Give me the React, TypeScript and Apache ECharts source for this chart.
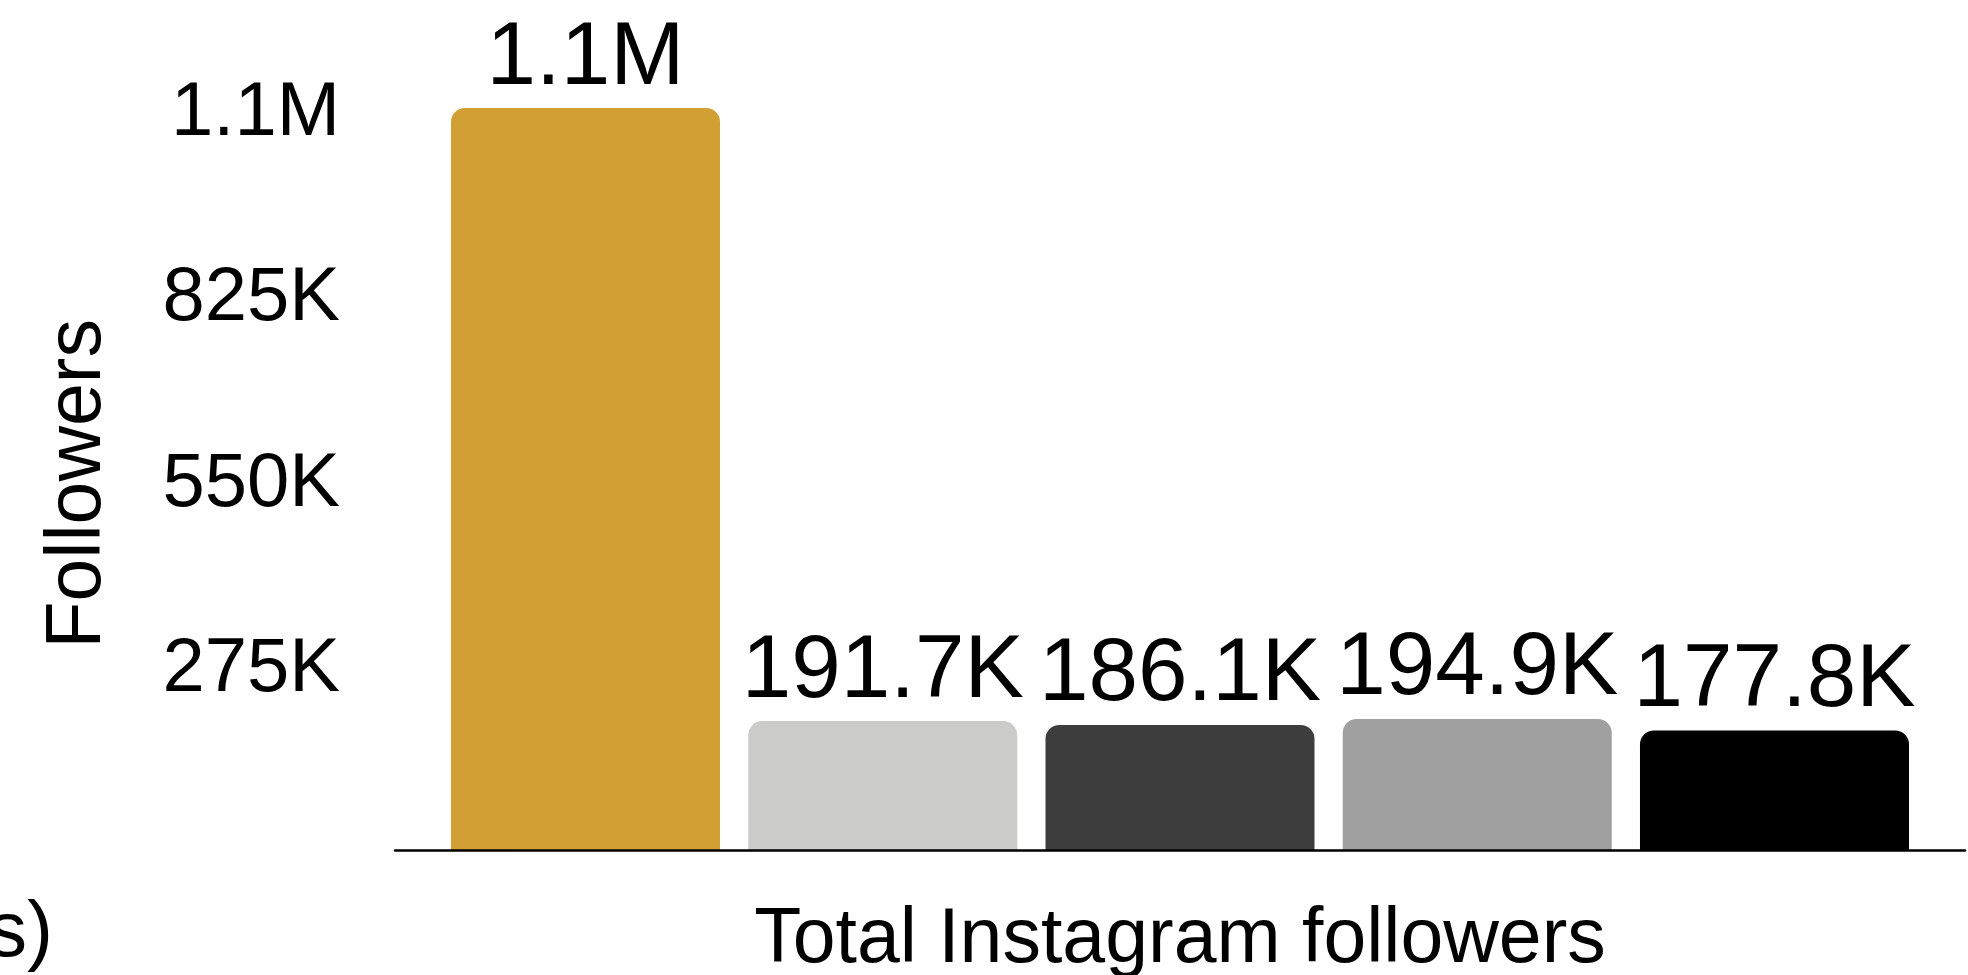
import React, { useEffect, useRef } from "react";
import * as echarts from "echarts";

// Single category, one bar per account
const categories = ["Total Instagram followers"];
const followers = [1100000, 191700, 186100, 194900, 177800];
const barColors = ["#D19F34", "#CBCCCA", "#3D3D3D", "#A0A0A0", "#000000"];

// Value axis ticks
const yMin = 0;
const yMax = 1100000;
const yInterval = 275000;

const FONT = "'Liberation Sans', 'Helvetica Neue', Arial, sans-serif";

function formatCount(v: number): string {
  if (v === 0) return "";
  if (v >= 1000000) return (v / 1000000).toFixed(1) + "M";
  const k = v / 1000;
  return (Number.isInteger(k) ? String(k) : k.toFixed(1)) + "K";
}

export default function App() {
  const ref = useRef<HTMLDivElement>(null);

  useEffect(() => {
    if (!ref.current) return;
    const chart = echarts.init(ref.current, null, { renderer: "svg" });

    const series = followers.map((v, i) => ({
      type: "bar" as const,
      data: [v],
      barWidth: 269,
      barGap: "10.5%",
      itemStyle: { color: barColors[i], borderRadius: [14, 14, 0, 0] },
      label: {
        show: true,
        position: "top" as const,
        distance: 11,
        fontFamily: FONT,
        fontSize: 89,
        color: "#000",
        formatter: (p: any) => formatCount(p.value),
      },
    }));

    chart.setOption({
      animation: false,
      backgroundColor: "#fff",
      textStyle: { fontFamily: FONT },
      grid: { left: 395, right: 3, top: 108, bottom: 124.5, containLabel: false },
      xAxis: {
        type: "category",
        data: categories,
        z: 3,
        axisLine: { show: true, lineStyle: { color: "#000", width: 2.5 } },
        axisTick: { show: false },
        axisLabel: {
          fontFamily: FONT,
          fontSize: 77,
          lineHeight: 70,
          color: "#000",
          margin: 49,
        },
      },
      yAxis: {
        type: "value",
        min: yMin,
        max: yMax,
        interval: yInterval,
        name: "Followers",
        nameLocation: "middle",
        nameGap: 284,
        nameTextStyle: { fontFamily: FONT, fontSize: 77, color: "#000", padding: [0, 9, 0, 0] },
        axisLine: { show: false },
        axisTick: { show: false },
        splitLine: { show: false },
        axisLabel: {
          fontFamily: FONT,
          fontSize: 76,
          color: "#000",
          margin: 55,
          padding: [6, 0, 0, 0],
          formatter: (v: number) => formatCount(v),
        },
      },
      graphic: [
        {
          type: "text",
          right: 1915,
          top: 890,
          style: {
            text: "s)",
            fontFamily: FONT,
            fontSize: 78,
            fill: "#000",
          },
        },
      ],
      series,
    });

    return () => chart.dispose();
  }, []);

  return (
    <div
      ref={ref}
      style={{ position: "absolute", left: 0, top: 0, width: 1968, height: 975 }}
    />
  );
}
